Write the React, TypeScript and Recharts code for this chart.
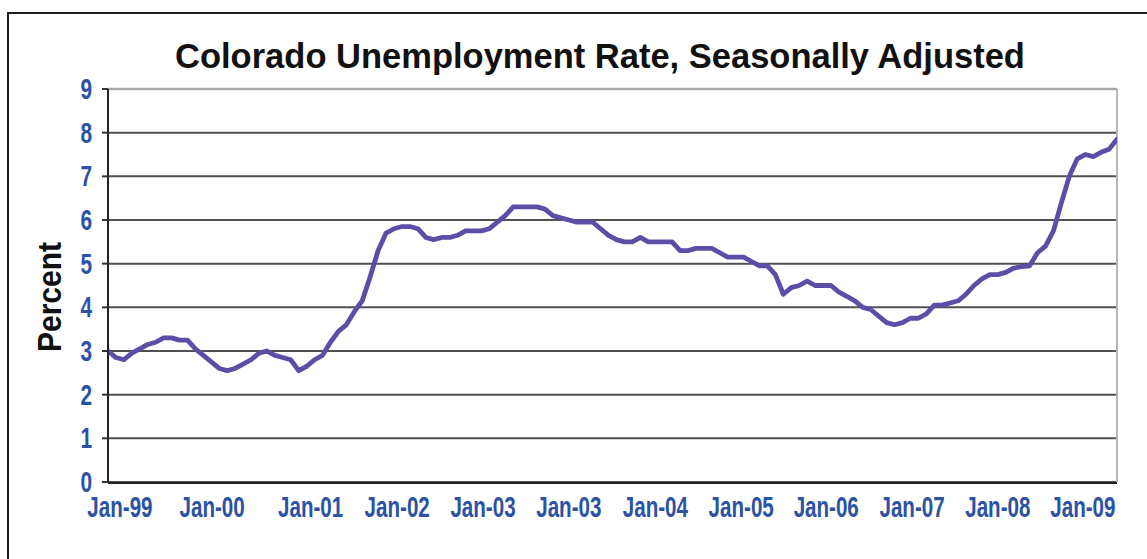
import React from 'react';
import { LineChart, Line, XAxis, YAxis, CartesianGrid, ReferenceLine } from 'recharts';

const rates: number[] = [
  3.0, 2.85, 2.8, 2.95, 3.05, 3.15, 3.2, 3.3, 3.3, 3.25, 3.25, 3.05,
  2.9, 2.75, 2.6, 2.55, 2.6, 2.7, 2.8, 2.95, 3.0, 2.9, 2.85, 2.8,
  2.55, 2.65, 2.8, 2.9, 3.2, 3.45, 3.6, 3.9, 4.15, 4.7, 5.3, 5.7,
  5.8, 5.85, 5.85, 5.8, 5.6, 5.55, 5.6, 5.6, 5.65, 5.75, 5.75, 5.75,
  5.8, 5.95, 6.1, 6.3, 6.3, 6.3, 6.3, 6.25, 6.1, 6.05, 6.0, 5.95,
  5.95, 5.95, 5.8, 5.65, 5.55, 5.5, 5.5, 5.6, 5.5, 5.5, 5.5, 5.5,
  5.3, 5.3, 5.35, 5.35, 5.35, 5.25, 5.15, 5.15, 5.15, 5.05, 4.95, 4.95,
  4.75, 4.3, 4.45, 4.5, 4.6, 4.5, 4.5, 4.5, 4.35, 4.25, 4.15, 4.0,
  3.95, 3.8, 3.65, 3.6, 3.65, 3.75, 3.75, 3.85, 4.05, 4.05, 4.1, 4.15,
  4.3, 4.5, 4.65, 4.75, 4.75, 4.8, 4.9, 4.93, 4.95, 5.25, 5.4, 5.75,
  6.4, 7.0, 7.4, 7.5, 7.45, 7.55, 7.62, 7.85,
];

const yTicks: number[] = [0, 1, 2, 3, 4, 5, 6, 7, 8, 9];
const xTickMonths: number[] = [0, 12, 24, 36, 48, 60, 72, 84, 96, 108, 120];
const xLabelPositions: number[] = [1.5, 13.1, 25.5, 36.4, 47.2, 58, 68.9, 79.7, 90.4, 101.2, 112, 122.7];
const xLabels: string[] = ['Jan-99', 'Jan-00', 'Jan-01', 'Jan-02', 'Jan-03', 'Jan-03', 'Jan-04', 'Jan-05', 'Jan-06', 'Jan-07', 'Jan-08', 'Jan-09'];

const title = 'Colorado Unemployment Rate, Seasonally Adjusted';
const yTitle = 'Percent';

const data = rates.map((r, i) => ({ m: i, rate: r }));

const FONT = '"Liberation Sans", Arial, Helvetica, sans-serif';
const LABEL_BLUE = '#2B52A3';

const YTick = (props: any) => {
  const { x, y, payload } = props;
  return (
    <text
      transform={`translate(${x},${y + 10}) scale(0.72,1)`}
      textAnchor="end"
      fontFamily={FONT}
      fontWeight="bold"
      fontSize={29}
      fill={LABEL_BLUE}
    >
      {payload.value}
    </text>
  );
};

const XLabelTick = (props: any) => {
  const { x, y, payload } = props;
  const idx = xLabelPositions.indexOf(payload.value);
  return (
    <text
      transform={`translate(${x},${y + 35}) scale(0.71,1)`}
      textAnchor="middle"
      fontFamily={FONT}
      fontWeight="bold"
      fontSize={29}
      fill={LABEL_BLUE}
    >
      {idx >= 0 ? xLabels[idx] : ''}
    </text>
  );
};

export default function App() {
  return (
    <div
      style={{
        position: 'fixed',
        left: 0,
        top: 0,
        width: 1147,
        height: 559,
        background: '#ffffff',
        overflow: 'hidden',
      }}
    >
      <div
        style={{
          position: 'absolute',
          left: 7,
          top: 12,
          width: 1160,
          height: 560,
          borderTop: '2.5px solid #1e1e1e',
          borderLeft: '2.5px solid #1e1e1e',
        }}
      />
      <div
        style={{
          position: 'absolute',
          left: 0,
          top: 39,
          width: 1200,
          textAlign: 'center',
          fontFamily: FONT,
          fontWeight: 'bold',
          fontSize: 34.5,
          lineHeight: '34.5px',
          color: '#111',
          whiteSpace: 'nowrap',
        }}
      >
        {title}
      </div>
      <div style={{ position: 'absolute', left: 0, top: 0 }}>
        <LineChart
          width={1147}
          height={559}
          data={data}
          margin={{ top: 89, right: 30, bottom: 75, left: 0 }}
        >
          <CartesianGrid horizontal={true} vertical={false} stroke="#505050" strokeWidth={2} />
          <ReferenceLine y={9} stroke="#a8a8a8" strokeWidth={2.5} />
          <ReferenceLine x={127} stroke="#b8b8b8" strokeWidth={2} />
          <XAxis
            xAxisId="ticks"
            dataKey="m"
            type="number"
            domain={[0, 127]}
            ticks={xTickMonths}
            tick={false}
            tickSize={6}
            tickLine={{ stroke: '#222', strokeWidth: 2 }}
            axisLine={{ stroke: '#222', strokeWidth: 2 }}
            height={1}
            allowDataOverflow
          />
          <XAxis
            xAxisId="labels"
            dataKey="m"
            type="number"
            domain={[0, 127]}
            ticks={xLabelPositions}
            interval={0}
            tick={<XLabelTick />}
            tickLine={false}
            axisLine={false}
            tickSize={0}
            tickMargin={0}
            height={1}
            allowDataOverflow
          />
          <YAxis
            type="number"
            domain={[0, 9]}
            ticks={yTicks}
            interval={0}
            width={108}
            tick={<YTick />}
            tickSize={6}
            tickMargin={10}
            tickLine={{ stroke: '#333', strokeWidth: 2 }}
            axisLine={{ stroke: '#222', strokeWidth: 2 }}
          />
          <Line
            xAxisId="ticks"
            type="linear"
            dataKey="rate"
            stroke="#5D4DA6"
            strokeWidth={4.8}
            dot={false}
            isAnimationActive={false}
            strokeLinejoin="round"
            strokeLinecap="round"
          />
        </LineChart>
      </div>
      <svg
        style={{ position: 'absolute', left: 0, top: 0, pointerEvents: 'none' }}
        width={1147}
        height={559}
      >
        <text
          transform="translate(61,297) rotate(-90) scale(1,1.1)"
          textAnchor="middle"
          fontFamily={FONT}
          fontWeight="bold"
          fontSize={30}
          fill="#111"
        >
          {yTitle}
        </text>
      </svg>
    </div>
  );
}
